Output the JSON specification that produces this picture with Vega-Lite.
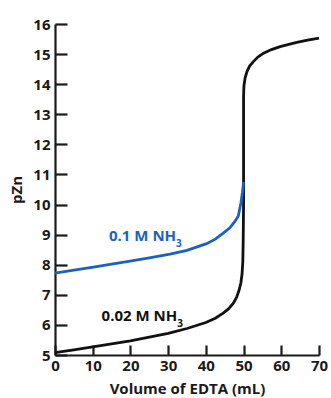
{
  "$schema": "https://vega.github.io/schema/vega-lite/v6.json",
  "autosize": {"type": "none"},
  "width": 264,
  "height": 331,
  "padding": {"left": 55, "top": 24, "right": 12, "bottom": 43},
  "background": "white",
  "config": {
    "view": {"stroke": null},
    "font": "Open Sans",
    "axis": {
      "domainColor": "#1a1a1a", "domainWidth": 2.2,
      "tickColor": "#1a1a1a", "tickWidth": 2.2,
      "labelFont": "Open Sans", "labelFontWeight": "bold", "labelFontSize": 15, "labelColor": "#1a1a1a",
      "titleFont": "Open Sans", "titleFontWeight": "bold", "titleFontSize": 15, "titleColor": "#1a1a1a",
      "labelOverlap": false,
      "grid": false
    }
  },
  "datasets": {
    "curves": [
      {"series": "0.02 M NH3", "i": 1, "vol": 0, "pZn": 5.08},
      {"series": "0.02 M NH3", "i": 2, "vol": 5, "pZn": 5.17},
      {"series": "0.02 M NH3", "i": 3, "vol": 10, "pZn": 5.27},
      {"series": "0.02 M NH3", "i": 4, "vol": 15, "pZn": 5.37},
      {"series": "0.02 M NH3", "i": 5, "vol": 20, "pZn": 5.47},
      {"series": "0.02 M NH3", "i": 6, "vol": 25, "pZn": 5.59},
      {"series": "0.02 M NH3", "i": 7, "vol": 30, "pZn": 5.72},
      {"series": "0.02 M NH3", "i": 8, "vol": 35, "pZn": 5.88},
      {"series": "0.02 M NH3", "i": 9, "vol": 40, "pZn": 6.08},
      {"series": "0.02 M NH3", "i": 10, "vol": 42.5, "pZn": 6.22},
      {"series": "0.02 M NH3", "i": 11, "vol": 44.6, "pZn": 6.39},
      {"series": "0.02 M NH3", "i": 12, "vol": 46, "pZn": 6.53},
      {"series": "0.02 M NH3", "i": 13, "vol": 47.3, "pZn": 6.72},
      {"series": "0.02 M NH3", "i": 14, "vol": 48.2, "pZn": 6.93},
      {"series": "0.02 M NH3", "i": 15, "vol": 48.8, "pZn": 7.15},
      {"series": "0.02 M NH3", "i": 16, "vol": 49.3, "pZn": 7.4},
      {"series": "0.02 M NH3", "i": 17, "vol": 49.6, "pZn": 7.7},
      {"series": "0.02 M NH3", "i": 18, "vol": 49.8, "pZn": 8.1},
      {"series": "0.02 M NH3", "i": 19, "vol": 49.9, "pZn": 8.8},
      {"series": "0.02 M NH3", "i": 20, "vol": 50, "pZn": 10},
      {"series": "0.02 M NH3", "i": 21, "vol": 50, "pZn": 12},
      {"series": "0.02 M NH3", "i": 22, "vol": 50, "pZn": 13.6},
      {"series": "0.02 M NH3", "i": 23, "vol": 50.1, "pZn": 13.95},
      {"series": "0.02 M NH3", "i": 24, "vol": 50.4, "pZn": 14.2},
      {"series": "0.02 M NH3", "i": 25, "vol": 50.9, "pZn": 14.42},
      {"series": "0.02 M NH3", "i": 26, "vol": 51.6, "pZn": 14.6},
      {"series": "0.02 M NH3", "i": 27, "vol": 52.6, "pZn": 14.75},
      {"series": "0.02 M NH3", "i": 28, "vol": 53.8, "pZn": 14.9},
      {"series": "0.02 M NH3", "i": 29, "vol": 55.3, "pZn": 15.03},
      {"series": "0.02 M NH3", "i": 30, "vol": 57.4, "pZn": 15.15},
      {"series": "0.02 M NH3", "i": 31, "vol": 59.7, "pZn": 15.25},
      {"series": "0.02 M NH3", "i": 32, "vol": 62, "pZn": 15.32},
      {"series": "0.02 M NH3", "i": 33, "vol": 64.1, "pZn": 15.39},
      {"series": "0.02 M NH3", "i": 34, "vol": 67, "pZn": 15.46},
      {"series": "0.02 M NH3", "i": 35, "vol": 70, "pZn": 15.53},
      {"series": "0.1 M NH3", "i": 1, "vol": 0, "pZn": 7.72},
      {"series": "0.1 M NH3", "i": 2, "vol": 5, "pZn": 7.82},
      {"series": "0.1 M NH3", "i": 3, "vol": 10.2, "pZn": 7.92},
      {"series": "0.1 M NH3", "i": 4, "vol": 15, "pZn": 8.02},
      {"series": "0.1 M NH3", "i": 5, "vol": 20.3, "pZn": 8.13},
      {"series": "0.1 M NH3", "i": 6, "vol": 25, "pZn": 8.23},
      {"series": "0.1 M NH3", "i": 7, "vol": 30.5, "pZn": 8.35},
      {"series": "0.1 M NH3", "i": 8, "vol": 35, "pZn": 8.48},
      {"series": "0.1 M NH3", "i": 9, "vol": 40.2, "pZn": 8.7},
      {"series": "0.1 M NH3", "i": 10, "vol": 42.5, "pZn": 8.85},
      {"series": "0.1 M NH3", "i": 11, "vol": 44.6, "pZn": 9.05},
      {"series": "0.1 M NH3", "i": 12, "vol": 46.3, "pZn": 9.22},
      {"series": "0.1 M NH3", "i": 13, "vol": 47.7, "pZn": 9.44},
      {"series": "0.1 M NH3", "i": 14, "vol": 48.6, "pZn": 9.62},
      {"series": "0.1 M NH3", "i": 15, "vol": 49.3, "pZn": 10.05},
      {"series": "0.1 M NH3", "i": 16, "vol": 49.7, "pZn": 10.4},
      {"series": "0.1 M NH3", "i": 17, "vol": 50, "pZn": 10.75}
    ],
    "labels": [
      {"series": "0.1 M NH3", "main": "0.1 M NH", "sub": "3", "vol": 32.1, "pZn": 8.96, "subpZn": 8.7},
      {"series": "0.02 M NH3", "main": "0.02 M NH", "sub": "3", "vol": 32.4, "pZn": 6.28, "subpZn": 6.03}
    ]
  },
  "encoding": {
    "x": {"field": "vol", "type": "quantitative",
          "scale": {"domain": [0, 70], "nice": false, "zero": false},
          "axis": {"title": "Volume of EDTA (mL)", "values": [0,10,20,30,40,50,60,70], "tickSize": -10, "labelPadding": 13, "titlePadding": 8, "labelFlush": false, "labelOverlap": false}},
    "y": {"field": "pZn", "type": "quantitative",
          "scale": {"domain": [5, 16], "nice": false, "zero": false},
          "axis": {"title": "pZn", "values": [5,6,7,8,9,10,11,12,13,14,15,16], "tickSize": -12, "labelPadding": 17, "titlePadding": 8, "labelFlush": false, "labelOverlap": false}},
    "color": {"field": "series", "type": "nominal",
              "scale": {"domain": ["0.02 M NH3", "0.1 M NH3"], "range": ["#111111", "#1b62c0"]},
              "legend": null}
  },
  "layer": [
    {
      "data": {"name": "curves"},
      "mark": {"type": "line", "strokeWidth": 2.8, "interpolate": "linear"},
      "encoding": {
        "detail": {"field": "series"},
        "order": {"field": "i", "type": "quantitative"}
      }
    },
    {
      "data": {"name": "labels"},
      "mark": {"type": "text", "align": "right", "baseline": "middle", "font": "Open Sans", "fontWeight": "bold", "fontSize": 15},
      "encoding": {
        "text": {"field": "main"}
      }
    },
    {
      "data": {"name": "labels"},
      "mark": {"type": "text", "align": "left", "baseline": "middle", "font": "Open Sans", "fontWeight": "bold", "fontSize": 10},
      "encoding": {
        "y": {"field": "subpZn", "type": "quantitative",
              "axis": {"title": "pZn", "values": [5,6,7,8,9,10,11,12,13,14,15,16], "tickSize": -12, "labelPadding": 17, "titlePadding": 8, "labelFlush": false, "labelOverlap": false}},
        "text": {"field": "sub"}
      }
    }
  ]
}
